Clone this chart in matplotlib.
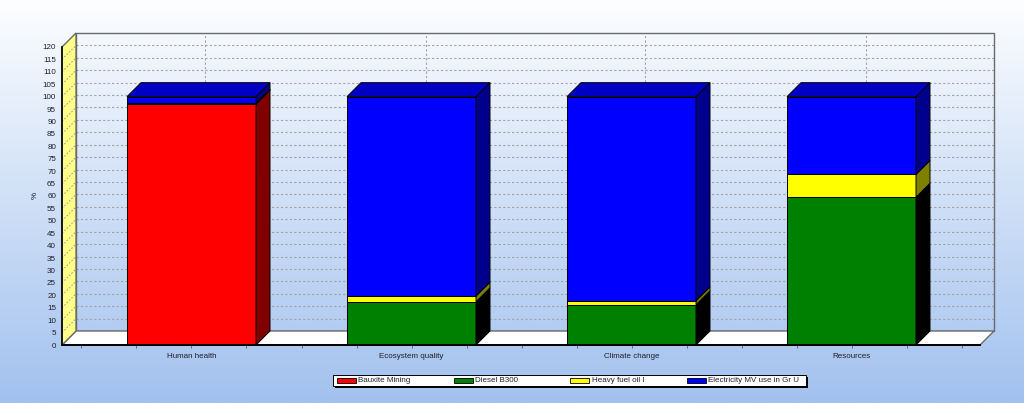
import numpy as np
import matplotlib
matplotlib.use("Agg")
import matplotlib.pyplot as plt
from matplotlib.patches import Polygon, Rectangle

# ---------------- data ----------------
categories = ["Human health", "Ecosystem quality", "Climate change", "Resources"]
series_names = ["Bauxite Mining", "Diesel B300", "Heavy fuel oil I", "Electricity MV use in Gr U"]
bauxite_mining = [97.0, 0.0, 0.0, 0.0]
diesel_b300 = [0.3, 17.4, 16.2, 59.5]
heavy_fuel_oil = [0.1, 2.3, 1.6, 9.2]
electricity_mv = [2.6, 80.3, 82.2, 31.3]
y_tick_values = list(range(0, 121, 5))
y_max = 120

# ---------------- style ----------------
front_colors = ["#ff0000", "#008000", "#ffff00", "#0000ff"]
side_colors = ["#800000", "#000000", "#808000", "#00008c"]
top_colors = ["#c00000", "#005000", "#c0c000", "#0000c4"]
grid_color = "#a4a4a4"
frame_color = "#6a6a6a"
FS = 5.8

plt.rcParams["font.family"] = ["Liberation Sans", "DejaVu Sans"]

W, H = 1024, 403
fig = plt.figure(figsize=(W / 100, H / 100), dpi=100)

# background gradient
bg = fig.add_axes([0, 0, 1, 1], zorder=-10)
c_top = np.array([253, 254, 255]) / 255
c_bot = np.array([162, 193, 238]) / 255
t = np.linspace(0, 1, 256)[:, None]
grad = c_top * (1 - t) + c_bot * t
bg.imshow(grad[:, None, :], aspect="auto", extent=[0, 1, 0, 1], origin="upper")
bg.axis("off")

# main axes geometry (pixels)
px_left, px_right, px_bottom, px_top = 62, 995, 345, 33
ax = fig.add_axes([px_left / W, 1 - px_bottom / H,
                   (px_right - px_left) / W, (px_bottom - px_top) / H])
ax.set_facecolor("none")
slot = 220.0
ppu_y = (345 - 47) / 120.0
x_lo = -(191.5 - px_left) / slot
x_hi = (px_right - 191.5) / slot
y_hi = (px_bottom - px_top) / ppu_y
ax.set_xlim(x_lo, x_hi)
ax.set_ylim(0, y_hi)
dx = 14 / slot
dy = 14 / ppu_y
x_front_right = (980 - 191.5) / slot
x_back_right = x_front_right + dx

# back wall grid
ax.hlines([v + dy for v in y_tick_values[1:-1]], x_lo + dx, x_back_right,
          colors=grid_color, linestyles=(0, (2, 2)), lw=0.8, zorder=1)
xc = np.arange(len(categories))
ax.vlines(xc + dx, dy, y_max + dy, colors=grid_color, linestyles=(0, (2, 2)), lw=0.8, zorder=1)
ax.add_patch(Rectangle((x_lo + dx, dy), x_back_right - (x_lo + dx), y_max,
                       fill=False, edgecolor=frame_color, lw=1.0, zorder=2, clip_on=False))

# floor
ax.add_patch(Polygon([(x_lo, 0), (x_front_right, 0), (x_back_right, dy), (x_lo + dx, dy)],
                     closed=True, facecolor="white", edgecolor=frame_color, lw=1.0,
                     zorder=2, clip_on=False))
# left wall
ax.add_patch(Polygon([(x_lo, 0), (x_lo, y_max), (x_lo + dx, y_max + dy), (x_lo + dx, dy)],
                     closed=True, facecolor="#ffff88", edgecolor=frame_color, lw=1.0,
                     zorder=2, clip_on=False))
for v in y_tick_values[1:-1]:
    ax.plot([x_lo, x_lo + dx], [v, v + dy], color=grid_color, lw=0.8,
            linestyle=(0, (1.5, 1.5)), zorder=3, clip_on=False)

# bars
series = [bauxite_mining, diesel_b300, heavy_fuel_oil, electricity_mv]
bar_w = 129 / slot
bottom = np.zeros(len(categories))
last_idx = [0] * len(categories)
for k, vals in enumerate(series):
    vals = np.array(vals, dtype=float)
    mask = vals > 0
    ax.bar(xc[mask], vals[mask], bar_w, bottom=bottom[mask], color=front_colors[k],
           edgecolor="black", lw=0.7, zorder=5)
    for i in range(len(categories)):
        if vals[i] <= 0:
            continue
        last_idx[i] = k
        xr = xc[i] + bar_w / 2
        b, tp = bottom[i], bottom[i] + vals[i]
        ax.add_patch(Polygon([(xr, b), (xr, tp), (xr + dx, tp + dy), (xr + dx, b + dy)],
                             closed=True, facecolor=side_colors[k], edgecolor="black",
                             lw=0.7, zorder=5))
    bottom += vals
for i in range(len(categories)):
    xl, xr = xc[i] - bar_w / 2, xc[i] + bar_w / 2
    T = bottom[i]
    ax.add_patch(Polygon([(xl, T), (xr, T), (xr + dx, T + dy), (xl + dx, T + dy)],
                         closed=True, facecolor=top_colors[last_idx[i]], edgecolor="black",
                         lw=0.7, zorder=5))

# front axis lines
ax.plot([x_lo, x_front_right], [0, 0], color="black", lw=1.4, zorder=7, clip_on=False)
ax.plot([x_lo, x_lo], [0, y_max], color="black", lw=1.2, zorder=7, clip_on=False)

for s in ax.spines.values():
    s.set_visible(False)

ax.set_yticks(y_tick_values)
ax.set_yticklabels([str(v) for v in y_tick_values])
ax.tick_params(axis="y", length=0, pad=4.3, labelsize=FS, labelcolor="#1e1e2a")
ax.set_xticks(xc)
ax.set_xticklabels(categories)
ax.set_xticks(np.arange(-0.5, 3.51, 0.25), minor=True)
ax.tick_params(axis="x", which="both", length=2.2, width=0.6, color="#555555",
               pad=3.5, labelsize=FS, labelcolor="#1e1e2a")

fig.text(35 / W, 1 - 195 / H, "%", rotation=90, fontsize=FS, ha="center", va="center",
         color="#1e1e2a")

# legend (manual, fixed pitch like the source)
def fx(p):
    return p / W

def fy(p):
    return 1 - p / H

lx0, ly0, lx1, ly1 = 333, 375, 806, 386
fig.add_artist(Rectangle((fx(lx0 + 2), fy(ly1 + 2)), fx(lx1 - lx0), (ly1 - ly0) / H,
                         transform=fig.transFigure, facecolor="black", edgecolor="none"))
fig.add_artist(Rectangle((fx(lx0), fy(ly1)), fx(lx1 - lx0), (ly1 - ly0) / H,
                         transform=fig.transFigure, facecolor="white", edgecolor="black", lw=0.7))
for k, name in enumerate(series_names):
    px = 337 + k * 116.5
    fig.add_artist(Rectangle((fx(px), fy(383)), fx(19), 5 / H, transform=fig.transFigure,
                             facecolor=front_colors[k], edgecolor="black", lw=0.6))
    fig.text(fx(px + 21.5), fy(380.8), name, fontsize=FS, ha="left", va="center",
             color="#1e1e2a")

fig.savefig("out.png", dpi=100)
